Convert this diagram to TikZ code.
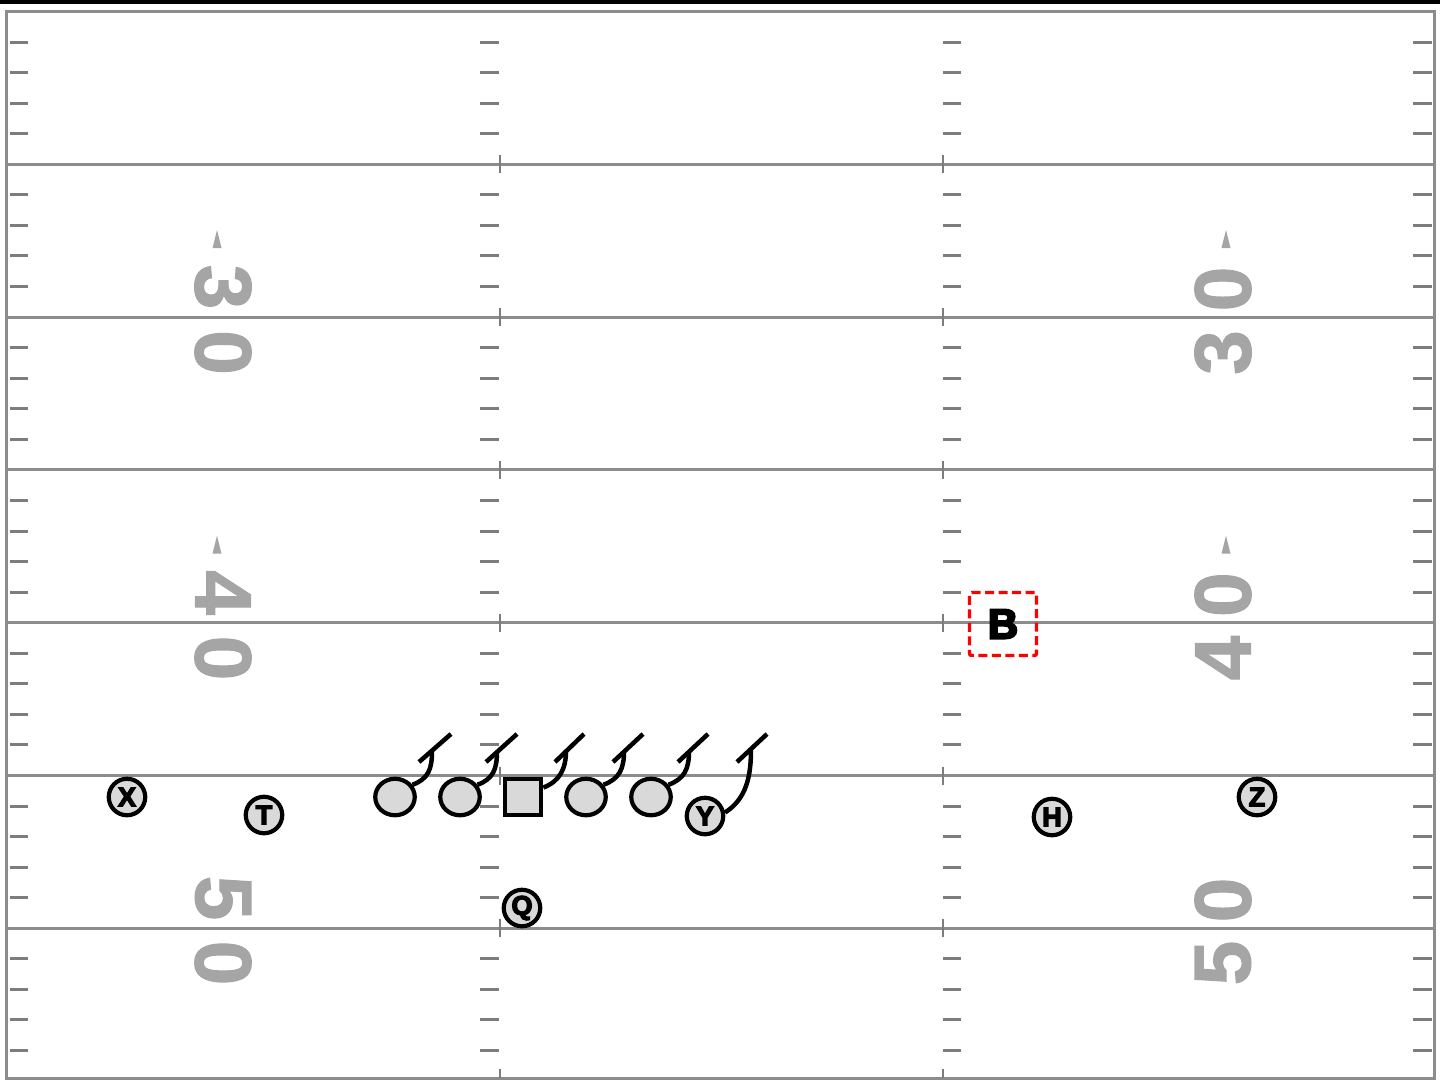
\documentclass[tikz,border=0pt]{standalone}
\usepackage{fontspec}
\setmainfont{Liberation Sans}
\newfontfamily\numfont{Liberation Sans Bold}[FakeBold=1.5]
\newfontfamily\heavyfont{Liberation Sans Bold}[FakeBold=5]
\usetikzlibrary{shapes.geometric}
\definecolor{fieldline}{RGB}{140,140,140}
\definecolor{hashgray}{RGB}{125,125,125}
\definecolor{numgray}{RGB}{165,165,165}
\definecolor{playerfill}{RGB}{217,217,217}
\definecolor{bred}{RGB}{255,0,0}
\tikzset{
  yardline/.style={draw=fieldline, line width=3pt},
  hashmark/.style={draw=hashgray, line width=3pt},
  fieldnum/.style={inner sep=0pt, text=numgray, font=\numfont\fontsize{80}{80}\selectfont},
  arrowtri/.style={fill=numgray},
  lineman/.style={ellipse, draw=black, fill=playerfill, line width=4.2pt, minimum width=39.5pt, minimum height=36.5pt, inner sep=0pt},
  ctrbox/.style={rectangle, draw=black, fill=playerfill, line width=4.2pt, minimum width=36.5pt, minimum height=36.5pt, inner sep=0pt},
  skill/.style={circle, draw=black, fill=playerfill, line width=4.2pt, minimum size=36.5pt, inner sep=0pt, font=\heavyfont\fontsize{27}{27}\selectfont},
  blk/.style={draw=black, line width=4.5pt},
  bbox/.style={rectangle, draw=bred, line width=3.4pt, dash pattern=on 9pt off 4.5pt, rounded corners=2pt, minimum width=67pt, minimum height=63pt, inner sep=0pt, font=\heavyfont\fontsize{42}{42}\selectfont}
}
\begin{document}
\begin{tikzpicture}[x=1pt,y=-1pt]
\useasboundingbox (0,0) rectangle (1440,1080);
\fill[white] (0,0) rectangle (1440,1080);
\fill[black] (0,0) rectangle (1440,3.5);
% border
\draw[yardline] (6,11.5) rectangle (1434,1078);
% yard lines and ticks
\foreach \k in {1,...,6}{
  \pgfmathsetmacro\yy{11.5+152.8*\k}
  \draw[yardline] (6,\yy) -- (1434,\yy);
  \draw[hashmark, line width=2.6pt] (500,\yy-9) -- (500,\yy+9);
  \draw[hashmark, line width=2.6pt] (943,\yy-9) -- (943,\yy+9);
}
\draw[hashmark, line width=2.6pt] (500,1069) -- (500,1078);
\draw[hashmark, line width=2.6pt] (943,1069) -- (943,1078);
% hash marks
\foreach \n in {1,...,34}{
  \pgfmathtruncatemacro\r{mod(\n,5)}
  \ifnum\r>0
    \pgfmathsetmacro\yy{11.5+30.56*\n}
    \draw[hashmark] (10,\yy) -- (28,\yy);
    \draw[hashmark] (480,\yy) -- (499,\yy);
    \draw[hashmark] (943,\yy) -- (961,\yy);
    \draw[hashmark] (1413,\yy) -- (1432,\yy);
  \fi
}
% field numbers left
\node[fieldnum, rotate=-90] (l3) at (223,287) {3};
\node[fieldnum, rotate=-90] (l30) at (223,352.5) {0};
\node[fieldnum, rotate=-90] (l4) at (223,592.6) {4};
\node[fieldnum, rotate=-90] (l40) at (223,658) {0};
\node[fieldnum, rotate=-90] (l5) at (223,898) {5};
\node[fieldnum, rotate=-90] (l50) at (223,963) {0};
% field numbers right
\node[fieldnum, rotate=90] (r30) at (1223,289) {0};
\node[fieldnum, rotate=90] (r3) at (1223,352.5) {3};
\node[fieldnum, rotate=90] (r40) at (1223,594.6) {0};
\node[fieldnum, rotate=90] (r4) at (1223,658) {4};
\node[fieldnum, rotate=90] (r50) at (1223,900) {0};
\node[fieldnum, rotate=90] (r5) at (1223,963) {5};
% direction triangles
\fill[arrowtri] (212.5,248) -- (217,230) -- (221.5,248) -- cycle;
\fill[arrowtri] (1221.5,248) -- (1226,230) -- (1230.5,248) -- cycle;
\fill[arrowtri] (212.5,553.6) -- (217,535.6) -- (221.5,553.6) -- cycle;
\fill[arrowtri] (1221.5,553.6) -- (1226,535.6) -- (1230.5,553.6) -- cycle;
% B box
\node[bbox] (b) at (1003,624) {B};
% offensive line
\node[lineman] (lt) at (395,797) {};
\node[lineman] (lg) at (460,797) {};
\node[ctrbox] (c) at (523,797) {};
\node[lineman] (rg) at (586,797) {};
\node[lineman] (rt) at (651,797) {};
% skill players
\node[skill] (x) at (127,797) {X};
\node[skill] (t) at (264,815) {T};
\node[skill] (y) at (705,816) {Y};
\node[skill] (h) at (1052,817) {H};
\node[skill] (z) at (1257,797) {Z};
\node[skill] (q) at (522,908) {Q};
% block ends
\coordinate (lt-e) at (432,751); \coordinate (lt-b1) at (419,762); \coordinate (lt-b2) at (451,734);
\coordinate (lg-e) at (497,751); \coordinate (lg-b1) at (486,762); \coordinate (lg-b2) at (517,734);
\coordinate (c-e) at (566,751);  \coordinate (c-b1) at (555,762);  \coordinate (c-b2) at (584,734);
\coordinate (rg-e) at (624,751); \coordinate (rg-b1) at (613,762); \coordinate (rg-b2) at (643,734);
\coordinate (rt-e) at (689,751); \coordinate (rt-b1) at (678,762); \coordinate (rt-b2) at (708,734);
\coordinate (y-e) at (751,749);  \coordinate (y-b1) at (737,762);  \coordinate (y-b2) at (767,734);
\draw[blk] (lt.35) .. controls +(16,-6) and +(0,18) .. (lt-e);
\draw[blk] (lt-b1) -- (lt-b2);
\draw[blk] (lg.35) .. controls +(16,-6) and +(0,18) .. (lg-e);
\draw[blk] (lg-b1) -- (lg-b2);
\draw[blk] (c.25) .. controls +(16,-6) and +(0,18) .. (c-e);
\draw[blk] (c-b1) -- (c-b2);
\draw[blk] (rg.35) .. controls +(16,-6) and +(0,18) .. (rg-e);
\draw[blk] (rg-b1) -- (rg-b2);
\draw[blk] (rt.35) .. controls +(16,-6) and +(0,18) .. (rt-e);
\draw[blk] (rt-b1) -- (rt-b2);
\draw[blk] (y.10) .. controls +(22,-14) and +(0,26) .. (y-e);
\draw[blk] (y-b1) -- (y-b2);
\end{tikzpicture}
\end{document}
